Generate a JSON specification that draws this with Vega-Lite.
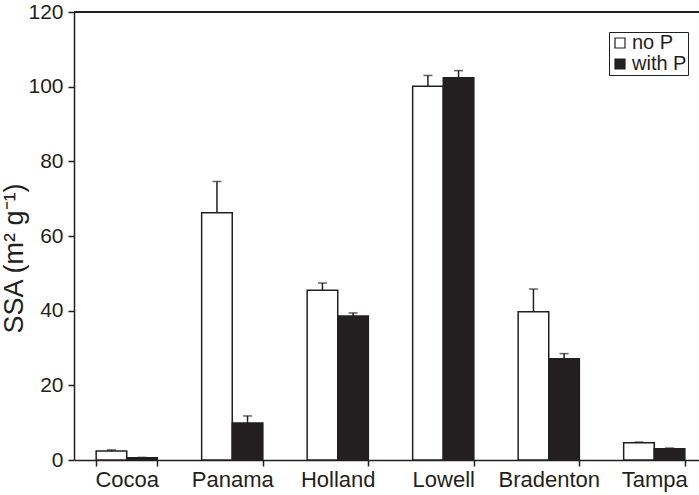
{
  "$schema": "https://vega.github.io/schema/vega-lite/v6.json",
  "autosize": {"type": "none"},
  "padding": {"left": 74, "top": 12, "right": 0, "bottom": 35},
  "width": 625,
  "height": 448,
  "background": "white",
  "config": {"view": {"stroke": null}, "font": "Liberation Sans"},
  "data": {
    "values": [
      {"site": "Cocoa", "treatment": "no P", "ssa": 2.4, "upper": 2.7},
      {"site": "Cocoa", "treatment": "with P", "ssa": 0.6, "upper": 0.7},
      {"site": "Panama", "treatment": "no P", "ssa": 66.2, "upper": 74.6},
      {"site": "Panama", "treatment": "with P", "ssa": 9.9, "upper": 11.8},
      {"site": "Holland", "treatment": "no P", "ssa": 45.5, "upper": 47.4},
      {"site": "Holland", "treatment": "with P", "ssa": 38.6, "upper": 39.4},
      {"site": "Lowell", "treatment": "no P", "ssa": 100.1, "upper": 103.0},
      {"site": "Lowell", "treatment": "with P", "ssa": 102.4, "upper": 104.3},
      {"site": "Bradenton", "treatment": "no P", "ssa": 39.7, "upper": 45.8},
      {"site": "Bradenton", "treatment": "with P", "ssa": 27.1, "upper": 28.5},
      {"site": "Tampa", "treatment": "no P", "ssa": 4.6, "upper": 4.8},
      {"site": "Tampa", "treatment": "with P", "ssa": 3.0, "upper": 3.2}
    ]
  },
  "layer": [
    {
      "mark": {"type": "bar", "stroke": "#231f20", "strokeWidth": 1.5},
      "encoding": {
        "x": {
          "field": "site", "type": "nominal",
          "sort": ["Cocoa", "Panama", "Holland", "Lowell", "Bradenton", "Tampa"],
          "scale": {"range": [0, 633], "paddingInner": 0.42, "paddingOuter": 0.21},
          "axis": {
            "title": null, "labelAngle": 0, "labelFontSize": 22, "labelColor": "#231f20",
            "tickBand": "extent", "tickSize": 6, "tickColor": "#231f20",
            "domainColor": "#231f20", "domainWidth": 1.5, "tickWidth": 1.5, "labelPadding": 3
          }
        },
        "xOffset": {"field": "treatment", "sort": ["no P", "with P"], "scale": {"paddingInner": 0, "paddingOuter": 0}},
        "y": {
          "field": "ssa", "type": "quantitative",
          "scale": {"domain": [0, 120], "nice": false},
          "axis": {
            "values": [0, 20, 40, 60, 80, 100, 120],
            "title": "SSA (m² g⁻¹)", "titleFontSize": 27, "titleFontWeight": "normal", "titleColor": "#231f20",
            "titleY": 246, "titleX": -46,
            "labelFontSize": 21, "labelColor": "#231f20", "grid": false,
            "tickSize": 6, "tickColor": "#231f20", "tickWidth": 1.5,
            "domainColor": "#231f20", "domainWidth": 1.5, "labelPadding": 5, "titlePadding": 0
          }
        },
        "fill": {
          "field": "treatment", "type": "nominal",
          "scale": {"domain": ["no P", "with P"], "range": ["white", "#231f20"]},
          "legend": {
            "title": null, "orient": "none", "legendX": 535, "legendY": 20,
            "strokeColor": "#231f20", "fillColor": "white", "padding": 1,
            "symbolType": "square", "symbolSize": 100, "symbolStrokeColor": "#231f20", "symbolStrokeWidth": 1.2,
            "labelFontSize": 20, "labelColor": "#231f20", "labelOffset": 2, "rowPadding": 1
          }
        }
      }
    },
    {
      "mark": {"type": "rule", "color": "#231f20", "strokeWidth": 1.5},
      "encoding": {
        "x": {"field": "site", "type": "nominal", "sort": ["Cocoa", "Panama", "Holland", "Lowell", "Bradenton", "Tampa"]},
        "xOffset": {"field": "treatment", "sort": ["no P", "with P"]},
        "y": {"field": "ssa", "type": "quantitative"},
        "y2": {"field": "upper"}
      }
    },
    {
      "mark": {"type": "tick", "color": "#231f20", "thickness": 1.5, "size": 9},
      "encoding": {
        "x": {"field": "site", "type": "nominal", "sort": ["Cocoa", "Panama", "Holland", "Lowell", "Bradenton", "Tampa"]},
        "xOffset": {"field": "treatment", "sort": ["no P", "with P"]},
        "y": {"field": "upper", "type": "quantitative"}
      }
    },
    {
      "mark": {"type": "rule", "color": "#231f20", "strokeWidth": 1.5},
      "encoding": {"y": {"datum": 120}}
    }
  ]
}
